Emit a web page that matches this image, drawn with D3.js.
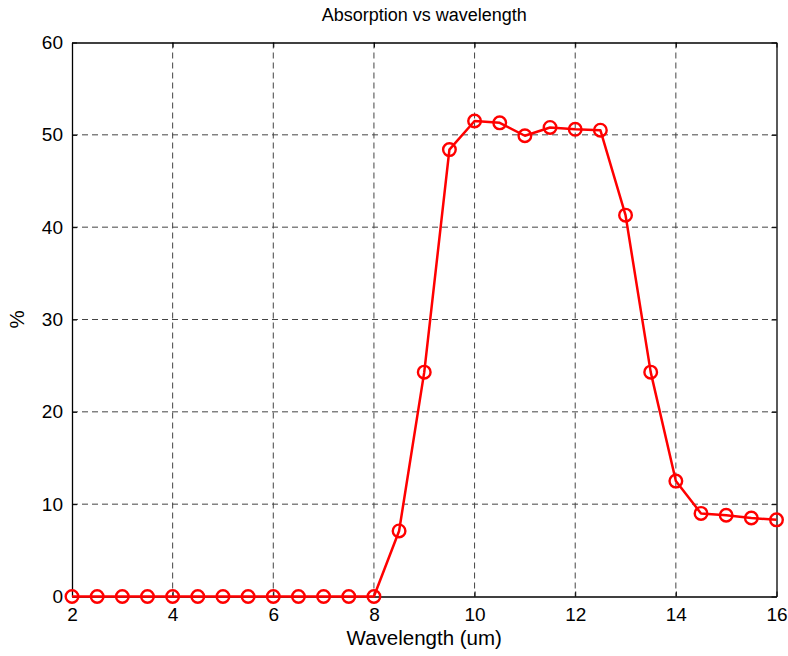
<!DOCTYPE html>
<html>
<head>
<meta charset="utf-8">
<script src="https://cdn.jsdelivr.net/npm/d3@7"></script>
<style>
  body { margin: 0; background: #fff; }
  text { font-family: "Liberation Sans", Arial, sans-serif; fill: #000; }
</style>
</head>
<body>
<svg width="788" height="656"></svg>
<script>
// wavelength in um
var wavelength = [2, 2.5, 3, 3.5, 4, 4.5, 5, 5.5, 6, 6.5, 7, 7.5, 8,
                  8.5, 9, 9.5, 10, 10.5, 11, 11.5, 12, 12.5, 13, 13.5,
                  14, 14.5, 15, 15.5, 16];
// absorption in %
var absorption = [0, 0, 0, 0, 0, 0, 0, 0, 0, 0, 0, 0, 0,
                  7.1, 24.3, 48.4, 51.5, 51.3, 49.9, 50.8, 50.6, 50.5, 41.3, 24.3,
                  12.5, 9.0, 8.8, 8.5, 8.3];
var xTicks = [2, 4, 6, 8, 10, 12, 14, 16],
    yTicks = [0, 10, 20, 30, 40, 50, 60];

var svg = d3.select("svg"),
    margin = {top: 42.5, right: 11.5, bottom: 59.5, left: 72},
    width = +svg.attr("width") - margin.left - margin.right,
    height = +svg.attr("height") - margin.top - margin.bottom;

var x = d3.scaleLinear().domain([2, 16]).range([0, width]),
    y = d3.scaleLinear().domain([0, 60]).range([height, 0]);

var g = svg.append("g").attr("transform", "translate(" + margin.left + "," + margin.top + ")");

// grid
g.append("g").selectAll("line").data(xTicks.slice(1, -1))
  .enter().append("line")
  .attr("x1", d => x(d)).attr("x2", d => x(d))
  .attr("y1", 0).attr("y2", height)
  .attr("stroke", "#444").attr("stroke-width", 1).attr("stroke-dasharray", "6,4");
g.append("g").selectAll("line").data(yTicks.slice(1, -1))
  .enter().append("line")
  .attr("y1", d => y(d)).attr("y2", d => y(d))
  .attr("x1", 0).attr("x2", width)
  .attr("stroke", "#444").attr("stroke-width", 1).attr("stroke-dasharray", "6,4");

// axes, ticks point inward like matlab
g.append("g").attr("transform", "translate(0," + height + ")")
  .call(d3.axisBottom(x).tickValues(xTicks).tickSizeInner(-5).tickSizeOuter(0).tickPadding(11));
g.append("g")
  .call(d3.axisLeft(y).tickValues(yTicks).tickSizeInner(-5).tickSizeOuter(0).tickPadding(9));
g.append("g")
  .call(d3.axisTop(x).tickValues(xTicks).tickSizeInner(-5).tickSizeOuter(0).tickFormat(""));
g.append("g").attr("transform", "translate(" + width + ",0)")
  .call(d3.axisRight(y).tickValues(yTicks).tickSizeInner(-5).tickSizeOuter(0).tickFormat(""));

g.selectAll(".domain").attr("stroke", "#000").attr("stroke-width", 1.3);
g.selectAll(".tick line").attr("stroke", "#000");
g.selectAll(".tick text").attr("font-size", 19).attr("font-family", "Liberation Sans, Arial, sans-serif");

// line + markers
var line = d3.line().x((d, i) => x(wavelength[i])).y(d => y(d));
g.append("path").datum(absorption)
  .attr("fill", "none").attr("stroke", "#ff0000").attr("stroke-width", 2.5)
  .attr("stroke-linejoin", "round")
  .attr("d", line);
g.append("g").selectAll("circle").data(absorption)
  .enter().append("circle")
  .attr("cx", (d, i) => x(wavelength[i]))
  .attr("cy", d => y(d))
  .attr("r", 6.3)
  .attr("fill", "none").attr("stroke", "#ff0000").attr("stroke-width", 2.4);

// labels
svg.append("text").attr("x", margin.left + width / 2).attr("y", 21)
  .attr("text-anchor", "middle").attr("font-size", 18).text("Absorption vs wavelength");
svg.append("text").attr("x", margin.left + width / 2).attr("y", 645)
  .attr("text-anchor", "middle").attr("font-size", 20.5).text("Wavelength (um)");
svg.append("text").attr("transform", "translate(24," + (margin.top + height / 2) + ") rotate(-90)")
  .attr("text-anchor", "middle").attr("font-size", 20.5).text("%");
</script>
</body>
</html>
